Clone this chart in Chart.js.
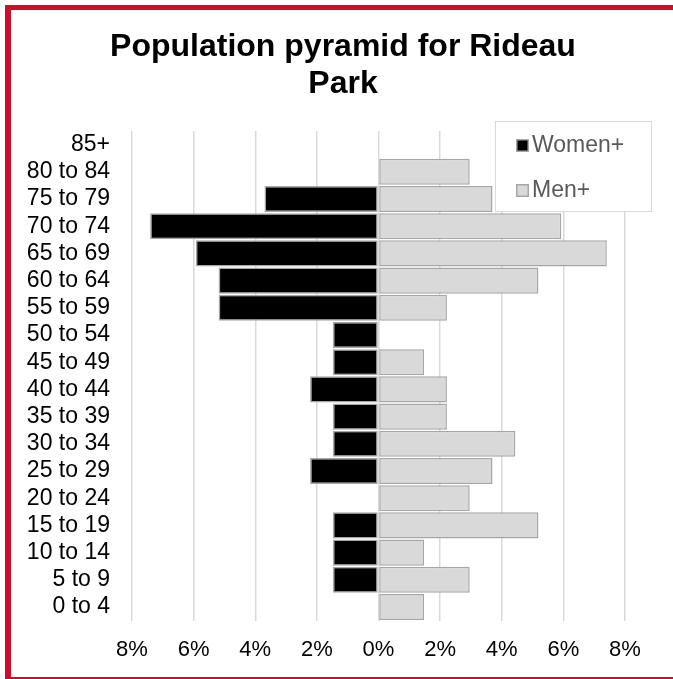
<!DOCTYPE html>
<html>
<head>
<meta charset="utf-8">
<script src="https://cdn.jsdelivr.net/npm/chart.js@4"></script>
<style>
  html, body { margin: 0; padding: 0; background: #fff; }
  #wrap { position: relative; width: 673px; height: 679px; overflow: hidden; }
  #frame {
    position: absolute; left: 5px; top: 5px; width: 680px; height: 667px;
    border-top: 5px solid #C8102E; border-left: 6px solid #C8102E; border-bottom: 2px solid #C8102E;
    pointer-events: none;
  }
  canvas { position: absolute; left: 0; top: 0; }
</style>
</head>
<body>
<div id="wrap">
  <canvas id="pyramid" width="673" height="679"></canvas>
  <div id="frame"></div>
</div>
<script>
// Age groups, oldest at the top
const ageGroups = ['85+', '80 to 84', '75 to 79', '70 to 74', '65 to 69', '60 to 64', '55 to 59',
  '50 to 54', '45 to 49', '40 to 44', '35 to 39', '30 to 34', '25 to 29', '20 to 24',
  '15 to 19', '10 to 14', '5 to 9', '0 to 4'];

// Share of population (%) per age group
const women = [0, 0, 3.70, 7.41, 5.93, 5.19, 5.19, 1.48, 1.48, 2.22, 1.48, 1.48, 2.22, 0, 1.48, 1.48, 1.48, 0];
const men = [0, 2.96, 3.70, 5.93, 7.41, 5.19, 2.22, 0, 1.48, 2.22, 2.22, 4.44, 3.70, 2.96, 5.19, 1.48, 2.96, 1.48];

const xTicks = [-8, -6, -4, -2, 0, 2, 4, 6, 8];

const FONT = 'Liberation Sans, Arial, sans-serif';

// Boxed legend drawn over the upper right corner of the plot
const boxLegend = {
  id: 'boxLegend',
  afterDraw(chart) {
    const ctx = chart.ctx;
    ctx.save();
    ctx.fillStyle = '#fff';
    ctx.fillRect(495, 121, 156, 90);
    ctx.strokeStyle = '#D9D9D9';
    ctx.lineWidth = 1;
    ctx.strokeRect(495.5, 121.5, 156, 90);
    chart.data.datasets.forEach((ds, i) => {
      const cy = 145 + i * 45;
      ctx.fillStyle = ds.borderColor;
      ctx.fillRect(516, cy - 6, 13, 13);
      ctx.fillStyle = ds.backgroundColor;
      ctx.fillRect(517.5, cy - 4.5, 10, 10);
      ctx.fillStyle = '#595959';
      ctx.font = '23px ' + FONT;
      ctx.textBaseline = 'middle';
      ctx.textAlign = 'left';
      ctx.fillText(ds.label, 532, cy + 1);
    });
    ctx.restore();
  }
};

new Chart(document.getElementById('pyramid'), {
  type: 'bar',
  data: {
    labels: ageGroups,
    datasets: [
      {
        label: 'Women+',
        data: women.map(v => -v),
        backgroundColor: '#000000',
        borderColor: '#A6A6A6',
        borderWidth: 1.5,
        borderSkipped: false,
        barPercentage: 0.96,
        categoryPercentage: 1
      },
      {
        label: 'Men+',
        data: men,
        backgroundColor: '#D9D9D9',
        borderColor: '#A6A6A6',
        borderWidth: 1.5,
        borderSkipped: false,
        barPercentage: 0.96,
        categoryPercentage: 1
      }
    ]
  },
  options: {
    indexAxis: 'y',
    responsive: false,
    animation: false,
    // padding + right spacer keep the title centred on the whole panel
    layout: { padding: { left: 13, right: 0, bottom: 0, top: 0 } },
    plugins: {
      legend: { display: false },
      tooltip: { enabled: false },
      title: {
        display: true,
        text: ['Population pyramid for Rideau', 'Park'],
        color: '#000',
        font: { family: FONT, size: 32, weight: 'bold', lineHeight: 1.156 },
        padding: { top: 28.5, bottom: 28.5 }
      }
    },
    scales: {
      x: {
        stacked: true,
        min: -8,
        max: 8,
        afterBuildTicks: axis => { axis.ticks = xTicks.map(v => ({ value: v })); },
        grid: { color: '#D9D9D9', lineWidth: 1.5, drawTicks: false },
        border: { display: false },
        ticks: {
          color: '#000',
          padding: 16,
          font: { family: FONT, size: 22 },
          callback: v => Math.abs(v) + '%'
        }
      },
      y: {
        stacked: true,
        grid: { display: false, drawTicks: false },
        border: { display: false },
        afterFit: scale => { scale.width = 119; },
        ticks: {
          color: '#000',
          padding: 22,
          autoSkip: false,
          font: { family: FONT, size: 23 }
        }
      },
      // empty spacer on the right side of the plot
      yRight: {
        type: 'category',
        position: 'right',
        grid: { display: false, drawTicks: false },
        border: { display: false },
        ticks: { display: false },
        afterFit: scale => { scale.width = 48; }
      }
    }
  },
  plugins: [boxLegend]
});
</script>
</body>
</html>
